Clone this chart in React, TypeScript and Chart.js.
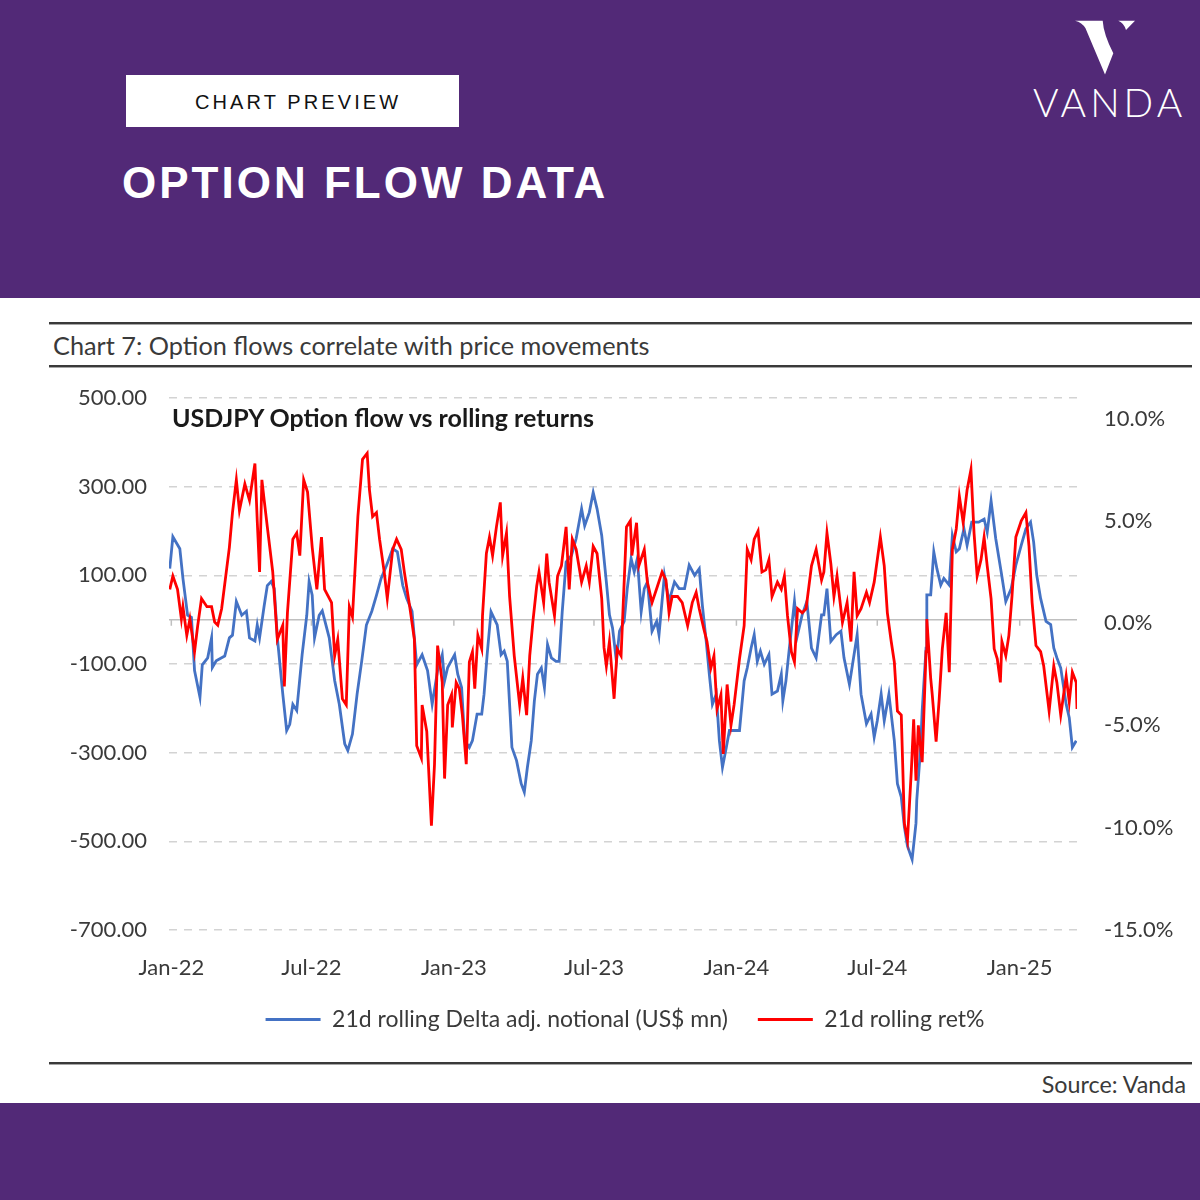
import React, { useEffect, useRef } from "react";
import { Chart, registerables } from "chart.js";

Chart.register(...registerables);

// x positions are days since 1 Jan 2022
const xTickDays = [0, 181, 365, 546, 730, 912, 1096];
const xTickLabels = ["Jan-22", "Jul-22", "Jan-23", "Jul-23", "Jan-24", "Jul-24", "Jan-25"];
const leftTickValues = [-700, -500, -300, -100, 100, 300, 500];
const rightTickValues = [-15, -10, -5, 0, 5, 10];

const flowLabel = "21d rolling Delta adj. notional (US$ mn)";
const retLabel = "21d rolling ret%";

const flowDays = [
  -2, 2, 11, 15, 21, 26, 30, 37, 40, 47, 52, 53, 58, 69, 75, 79, 84, 91, 97, 101, 108, 111, 114, 120, 124, 129, 133, 137,
  144, 149, 153, 157, 162, 169, 175, 178, 182, 185, 191, 195, 204, 211, 217, 224, 228, 234, 240, 246, 252, 259, 265, 271,
  278, 286, 292, 299, 304, 311, 317, 324, 331, 337, 344, 350, 353, 357, 366, 370, 375, 379, 385, 389, 395, 401, 404, 408,
  413, 417, 421, 426, 430, 434, 440, 446, 452, 456, 460, 465, 469, 473, 478, 482, 486, 491, 497, 501, 505, 510, 517, 523,
  530, 534, 540, 545, 550, 556, 562, 566, 570, 575, 579, 585, 589, 594, 598, 602, 607, 611, 615, 621, 627, 630, 637, 643,
  650, 656, 663, 669, 676, 682, 686, 691, 695, 699, 704, 708, 712, 717, 721, 727, 734, 740, 744, 749, 753, 757, 761, 766,
  772, 776, 783, 788, 790, 794, 798, 805, 809, 815, 821, 827, 833, 840, 843, 847, 852, 859, 865, 869, 876, 880, 886, 891,
  898, 904, 908, 912, 917, 921, 927, 934, 938, 943, 947, 951, 957, 962, 963, 968, 970, 975, 976, 981, 985, 989, 994, 998,
  1005, 1009, 1014, 1018, 1024, 1028, 1034, 1043, 1050, 1054, 1059, 1065, 1072, 1078, 1085, 1091, 1098, 1104, 1110, 1114,
  1118, 1123, 1130, 1136, 1140, 1144, 1149, 1156, 1160, 1164, 1169,
];
const flowValues = [
  115, 187, 160, 93, 10, 5, -115, -175, -102, -86, -41, -108, -93, -82, -41, -35, 41, 10, 19, -41, -48, -12, -41, 32, 77, 86, 70, -41,
  -168, -250, -236, -191, -205, -79, 10, 86, 55, -41, 10, 20, -41, -137, -191, -280, -295, -258, -168, -93, -12, 19, 55, 93,
  122, 160, 153, 77, 48, 19, -102, -79, -115, -191, -115, -79, -138, -108, -79, -123, -153, -273, -288, -273, -213, -213, -168, -79,
  18, 3, -12, -79, -71, -94, -288, -318, -370, -389, -333, -273, -183, -123, -109, -153, -56, -86, -94, -94, 18, 130, 145, 183,
  250, 212, 242, 287, 250, 190, 85, 11, -19, -94, -26, -4, 70, 138, 108, 138, 18, 70, 85, -26, -4, -34, 100, 41,
  85, 70, 70, 123, 100, 115, 33, -49, -123, -191, -168, -273, -333, -288, -250, -250, -250, -138, -109, -64, -34, -94, -71, -101,
  -79, -168, -161, -123, -183, -138, -71, 41, -34, 11, 41, -64, -86, 11, 11, 70, -49, -34, -26, -86, -146, -101, -34, -168,
  -235, -213, -265, -228, -168, -228, -168, -273, -370, -400, -467, -511, -541, -459, -407, -288, -205, -64, 56, 56, 153, 115, 78, 93,
  78, 190, 153, 160, 205, 168, 220, 220, 227, 197, 268, 183, 108, 41, 70, 123, 168, 205, 220, 175,
  100, 48, -4, -11, -64, -86, -109, -191, -221, -288, -273,
];

const retDays = [
  -2, 2, 8, 13, 15, 20, 24, 30, 34, 39, 46, 52, 56, 60, 65, 71, 75, 79, 84, 88, 95, 101, 108, 111, 114, 117, 120, 124, 131, 137,
  144, 146, 150, 157, 162, 166, 171, 176, 182, 188, 194, 198, 207, 211, 215, 221, 226, 230, 234, 241, 247, 253, 256, 260, 265,
  269, 275, 279, 286, 291, 297, 301, 308, 314, 317, 323, 324, 330, 336, 340, 344, 350, 353, 357, 362, 363, 368, 372, 376, 381,
  385, 389, 392, 396, 401, 402, 407, 411, 415, 420, 425, 428, 433, 437, 443, 450, 454, 459, 463, 467, 472, 475, 481, 485, 488,
  495, 499, 504, 510, 514, 518, 523, 530, 536, 540, 545, 550, 556, 559, 562, 566, 572, 576, 581, 588, 593, 595, 601, 604, 611,
  615, 621, 628, 634, 639, 643, 647, 654, 660, 667, 673, 678, 682, 688, 692, 697, 701, 705, 710, 713, 718, 723, 727, 734, 740,
  744, 749, 753, 758, 763, 768, 772, 776, 783, 788, 792, 796, 801, 805, 809, 815, 820, 827, 833, 840, 843, 847, 852, 856, 860,
  867, 873, 878, 882, 886, 891, 898, 902, 908, 916, 921, 925, 930, 934, 938, 943, 947, 951, 956, 959, 962, 965, 970, 975, 976,
  981, 983, 988, 992, 996, 1001, 1005, 1009, 1014, 1018, 1023, 1028, 1033, 1037, 1041, 1046, 1050, 1054, 1059, 1063, 1067, 1071,
  1073, 1078, 1082, 1086, 1091, 1098, 1104, 1108, 1112, 1117, 1123, 1127, 1134, 1140, 1144, 1149, 1156, 1160, 1164, 1169, 1170,
];
const retValues = [
  1.65, 2.3, 1.65, 0.2, 0.8, -0.6, 0.2, -1.4, -0.15, 1.2, 0.8, 0.8, 0.05, -0.1, 0.7, 2.5, 3.7, 5.4, 7.0, 5.5, 6.8, 6.0, 7.8, 5.0, 2.5, 7.0, 6.0, 4.7, 2.5, -0.8,
  -0.1, -3.1, 0.5, 4.1, 4.4, 3.3, 7.0, 6.4, 3.7, 1.65, 4.2, 1.65, 1.0, -1.6, -0.8, -3.7, -4.0, 0.8, 0.3, 5.2, 8.0, 8.3, 6.5, 5.2, 5.4,
  4.1, 2.5, 1.2, 3.6, 4.1, 3.6, 2.5, 0.8, -0.8, -6.0, -6.6, -4.0, -5.3, -9.9, -6.9, -1.1, -2.9, -7.6, -4.0, -3.5, -5.1, -2.9, -3.2, -4.5, -6.9,
  -1.9, -1.4, -3.2, -0.6, -1.26, 0.36, 3.4, 4.2, 3.3, 4.7, 5.9, 3.3, 4.4, 1.3, -1.6, -4.0, -2.7, -4.5, -1.6, 0.03, 1.8, 2.5, 1.0, 3.4, 2.0,
  0.36, 2.3, 2.8, 4.7, 1.65, 4.1, 3.6, 2.0, 2.8, 2.0, 3.75, 3.4, 1.2, -1.2, -2.1, -0.9, -3.7, -1.26, -1.6, 4.7, 5.0, 3.3, 4.9, 2.8, 3.6,
  2.0, 1.0, 1.8, 2.5, 2.1, 0.5, 1.3, 1.3, 1.0, -0.13, 1.0, 1.5, 0.7, -0.3, -0.9, -2.2, -1.6, -4.2, -3.5, -6.4, -3.0, -5.0, -4.0, -1.75, -0.13,
  3.6, 3.1, 4.1, 4.5, 2.5, 2.6, 3.1, 1.3, 2.0, 1.65, 2.3, 0.36, -1.4, -1.9, 0.7, 0.5, 0.7, 2.8, 3.6, 2.1, 2.5, 4.4, 2.9, 1.3, 2.3,
  0.03, 1.0, -0.9, 2.5, 0.36, 0.7, 1.5, 1.0, 2.0, 4.2, 2.8, 0.5, -0.9, -1.9, -4.3, -4.5, -9.8, -10.6, -7.2, -4.7, -7.7, -5.0, -6.8, -1.4, 0.2,
  -2.7, -3.5, -5.8, -3.7, -1.26, 0.5, -2.4, 3.6, 4.6, 6.2, 4.9, 6.5, 7.5, 4.4, 2.3, 3.1, 4.2, 2.8, 1.2, -1.26, -1.75, -2.9,
  -0.9, -1.6, -0.6, 1.3, 4.2, 5.0, 5.4, 3.75, 1.0, -1.1, -1.4, -2.1, -4.3, -2.1, -2.9, -4.5, -2.6, -3.85, -2.4, -2.9, -4.2,
];

const PURPLE = "#522977";
const BLUE = "#4472C4";
const RED = "#FF0000";
const TEXT = "#3a3a3a";
const FONT = "Lato, 'Open Sans', sans-serif";

const zeroLinePlugin = {
  id: "zeroLine",
  beforeDatasetsDraw(chart: any) {
    const { ctx, chartArea, scales } = chart;
    const y = scales.y.getPixelForValue(0);
    ctx.save();
    ctx.strokeStyle = "#bfbfbf";
    ctx.lineWidth = 1.5;
    ctx.beginPath();
    ctx.moveTo(chartArea.left, y);
    ctx.lineTo(chartArea.right, y);
    scales.x.ticks.forEach((t: any) => {
      const px = scales.x.getPixelForValue(t.value);
      ctx.moveTo(px, y);
      ctx.lineTo(px, y + 6);
    });
    ctx.stroke();
    ctx.restore();
  },
};

function Rule({ top }: { top: number }) {
  return (
    <div
      style={{
        position: "absolute",
        left: 49,
        top,
        width: 1143,
        height: 0,
        borderTop: "2px solid #3a3a3a",
        borderBottom: "1px solid #a6a6a6",
      }}
    />
  );
}

export default function App() {
  const canvasRef = useRef<HTMLCanvasElement>(null);

  useEffect(() => {
    if (!canvasRef.current) return;
    Chart.defaults.font.family = FONT;
    const chart = new Chart(canvasRef.current, {
      type: "line",
      data: {
        datasets: [
          {
            label: flowLabel,
            data: flowDays.map((d, i) => ({ x: d, y: flowValues[i] })),
            borderColor: BLUE,
            backgroundColor: BLUE,
            borderWidth: 2.8,
            pointRadius: 0,
            tension: 0,
            yAxisID: "y",
            order: 2,
          },
          {
            label: retLabel,
            data: retDays.map((d, i) => ({ x: d, y: retValues[i] })),
            borderColor: RED,
            backgroundColor: RED,
            borderWidth: 2.8,
            pointRadius: 0,
            tension: 0,
            yAxisID: "y1",
            order: 1,
          },
        ],
      },
      options: {
        responsive: false,
        animation: false,
        layout: { padding: { top: 18, left: 0, right: 0, bottom: 19 } },
        plugins: {
          title: { display: false },
          tooltip: { enabled: false },
          legend: {
            position: "bottom",
            labels: {
              boxWidth: 55,
              boxHeight: 3,
              padding: 30,
              color: TEXT,
              font: { size: 23, family: FONT },
              sort: (a: any, b: any) => a.datasetIndex - b.datasetIndex,
              generateLabels: (c: any) =>
                (Chart.defaults.plugins.legend.labels as any)
                  .generateLabels(c)
                  .map((l: any) => ({ ...l, lineWidth: 0 })),
            },
          },
        },
        scales: {
          x: {
            type: "linear",
            min: -3,
            max: 1170,
            grid: { display: false },
            border: { display: false },
            afterBuildTicks: (scale: any) => {
              scale.ticks = xTickDays.map((v) => ({ value: v }));
            },
            afterFit: (scale: any) => {
              scale.height = 48;
            },
            ticks: {
              autoSkip: false,
              maxRotation: 0,
              padding: 17,
              color: TEXT,
              font: { size: 22, family: FONT },
              callback: (v: any) => {
                const i = xTickDays.indexOf(Number(v));
                return i >= 0 ? xTickLabels[i] : "";
              },
            },
          },
          y: {
            position: "left",
            min: -700,
            max: 500,
            afterBuildTicks: (scale: any) => {
              scale.ticks = leftTickValues.map((v) => ({ value: v }));
            },
            afterFit: (scale: any) => {
              scale.width = 119;
              scale.paddingTop = 0;
              scale.paddingBottom = 0;
            },
            grid: { color: "#d3d3d3", lineWidth: 1.5, drawTicks: false },
            border: { display: false, dash: [8, 7] },
            ticks: {
              padding: 22,
              color: TEXT,
              font: { size: 22, family: FONT },
              callback: (v: any) => Number(v).toFixed(2),
            },
          },
          y1: {
            position: "right",
            min: -15,
            max: 11,
            afterBuildTicks: (scale: any) => {
              scale.ticks = rightTickValues.map((v) => ({ value: v }));
            },
            afterFit: (scale: any) => {
              scale.width = 123;
              scale.paddingTop = 0;
              scale.paddingBottom = 0;
            },
            grid: { display: false, drawTicks: false },
            border: { display: false },
            ticks: {
              padding: 27,
              color: TEXT,
              font: { size: 22, family: FONT },
              callback: (v: any) => Number(v).toFixed(1) + "%",
            },
          },
        },
      },
      plugins: [zeroLinePlugin],
    } as any);
    return () => chart.destroy();
  }, []);

  return (
    <div
      style={{
        position: "absolute",
        left: 0,
        top: 0,
        width: 1200,
        height: 1200,
        background: "#ffffff",
        overflow: "hidden",
        fontFamily: FONT,
      }}
    >
      <div style={{ position: "absolute", left: 0, top: 0, width: 1200, height: 298, background: PURPLE }} />
      <div style={{ position: "absolute", left: 0, top: 1103, width: 1200, height: 97, background: PURPLE }} />

      <div style={{ position: "absolute", left: 126, top: 75, width: 333, height: 52, background: "#ffffff" }} />
      <div
        style={{
          position: "absolute",
          left: 195,
          top: 92,
          fontFamily: "'Liberation Sans', Arial, sans-serif",
          fontSize: 20,
          lineHeight: "20px",
          letterSpacing: 3.1,
          color: "#111111",
          whiteSpace: "nowrap",
        }}
      >
        CHART PREVIEW
      </div>
      <div
        style={{
          position: "absolute",
          left: 122,
          top: 161,
          fontFamily: "'Liberation Sans', Arial, sans-serif",
          fontWeight: 700,
          fontSize: 44,
          lineHeight: "44px",
          letterSpacing: 3,
          color: "#ffffff",
          whiteSpace: "nowrap",
        }}
      >
        OPTION FLOW DATA
      </div>

      <svg
        style={{ position: "absolute", left: 1060, top: 10 }}
        width={100}
        height={75}
        viewBox="1060 10 100 75"
      >
        <path
          d="M1075,20.7 L1102.7,20.7 Q1103.5,34 1113.3,53.3 L1105,74.5 L1085.5,28.3 Q1082,22.3 1075,20.7 Z"
          fill="#ffffff"
        />
        <path d="M1118.3,20.7 L1135,20.7 L1126,30 Q1124,23 1118.3,20.7 Z" fill="#ffffff" />
      </svg>
      <div
        style={{
          position: "absolute",
          left: 1033,
          top: 83,
          fontFamily: "Lato, sans-serif",
          fontWeight: 300,
          fontSize: 39,
          lineHeight: "39px",
          letterSpacing: 4,
          color: "#ffffff",
          whiteSpace: "nowrap",
        }}
      >
        VANDA
      </div>

      <Rule top={322} />
      <div
        style={{
          position: "absolute",
          left: 53,
          top: 333,
          fontSize: 25.3,
          lineHeight: "25px",
          color: TEXT,
          whiteSpace: "nowrap",
        }}
      >
        Chart 7: Option flows correlate with price movements
      </div>
      <Rule top={365} />

      <canvas
        ref={canvasRef}
        width={1150}
        height={680}
        style={{ position: "absolute", left: 50, top: 380, width: 1150, height: 680 }}
      />
      <div
        style={{
          position: "absolute",
          left: 172,
          top: 405,
          fontSize: 25,
          lineHeight: "25px",
          fontWeight: 700,
          color: "#1a1a1a",
          whiteSpace: "nowrap",
        }}
      >
        USDJPY Option flow vs rolling returns
      </div>

      <Rule top={1062} />
      <div
        style={{
          position: "absolute",
          right: 14,
          top: 1073,
          fontSize: 23.3,
          lineHeight: "23px",
          color: TEXT,
          whiteSpace: "nowrap",
        }}
      >
        Source: Vanda
      </div>
    </div>
  );
}
